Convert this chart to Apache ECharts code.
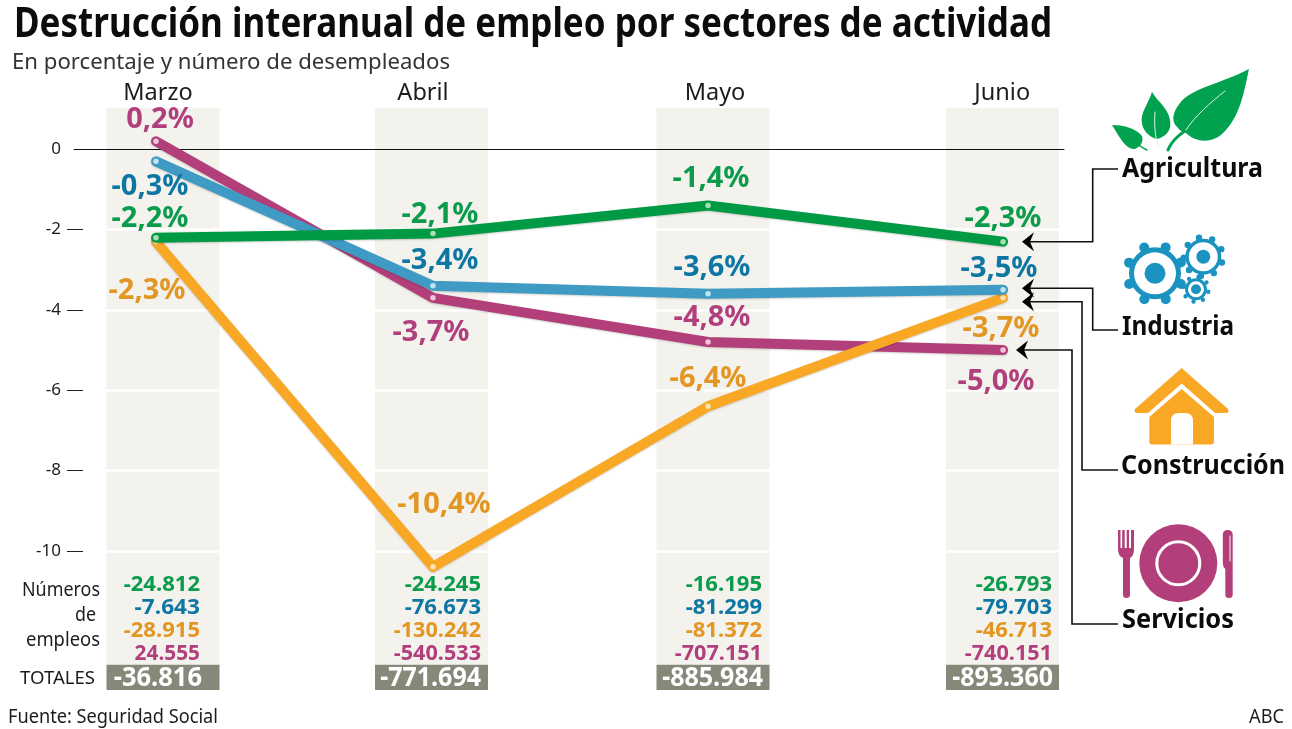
<!DOCTYPE html>
<html><head><meta charset="utf-8">
<style>html,body{margin:0;padding:0;background:#fff}#c{width:1292px;height:729px}</style>
<script src="https://cdn.jsdelivr.net/npm/echarts@6/dist/echarts.min.js"></script>
</head><body><div id="c"></div>
<script>
// ---------- data ----------
const months = ['Marzo','Abril','Mayo','Junio'];
const agricultura = [-2.2,-2.1,-1.4,-2.3];
const industria = [-0.3,-3.4,-3.6,-3.5];
const construccion = [-2.3,-10.4,-6.4,-3.7];
const servicios = [0.2,-3.7,-4.8,-5.0];
const jobsAgricultura = [-24812,-24245,-16195,-26793];
const jobsIndustria = [-7643,-76673,-81299,-79703];
const jobsConstruccion = [-28915,-130242,-81372,-46713];
const jobsServicios = [24555,-540533,-707151,-740151];
const totals = [-36816,-771694,-885984,-893360];
const tickedValues = [-2,-4,-6,-8,-10];

// ---------- layout (not data) ----------
const pointPos = [0,1,1.993,3.058];        // uneven column spacing of the original
const labelPos = [0.007,0.964,2.018,3.055];
const bandPos  = [0.0253,0.9946,2.0108,3.056];
const FONT = '"Noto Sans"';
const C = {green:'#009A44',greenT:'#0A9B4C',blue:'#3F9BC3',blueT:'#0D76A3',orange:'#F9A826',orangeT:'#E39622',pink:'#B23F7A',pinkT:'#B23F7D',band:'#F3F2EC',total:'#88887A',ink:'#1c1c1c',leaf:'#00A14F',gear:'#1B93C0'};
const dots = {green:'#A8DDB8',blue:'#BFE3F2',orange:'#FDE3B0',pink:'#F0C6DC'};
const labelOffsets = {
  green:[[-6,-19],[7,-19],[3,-27],[0,-23]],
  blue:[[-6,25],[7,-25],[4,-26],[-4,-21]],
  orange:[[-9,49],[11,-62],[0,-28],[-2,31]],
  pink:[[4,-22],[-2,35],[4,-24],[-7,32]]
};

const pct = v => v.toFixed(1).replace('.',',')+'%';
const thousands = v => (v<0?'-':'')+String(Math.abs(v)).replace(/\B(?=(\d{3})+$)/g,'.');

function lineSeries(name,vals,key,z){
  return {type:'line',name,z,clip:false,symbol:'circle',symbolSize:5.5,showSymbol:true,animation:false,silent:true,
    lineStyle:{color:C[key],width:10,cap:'round',join:'round',shadowColor:'rgba(0,0,0,0.18)',shadowBlur:2,shadowOffsetY:1},
    itemStyle:{color:dots[key],borderWidth:0},
    data:vals.map((v,i)=>({value:[pointPos[i],v],
      label:{show:true,position:'inside',offset:labelOffsets[key][i],formatter:pct(v),color:C[key+'T'],fontFamily:FONT,fontWeight:'bold',fontSize:29}}))};
}

const measure = document.createElement('canvas').getContext('2d');
function txt(x,y,str,size,weight,color,align,w){
  const font = weight+' '+size+'px '+FONT;
  let sx = 1;
  if(w){measure.font=font; sx = w/measure.measureText(str).width;}
  return {type:'text',x,y,scaleX:sx,silent:true,z:50,style:{x:0,y:0,text:str,font,fill:color,textAlign:align||'left',textVerticalAlign:'middle'}};
}
function gear(cx,cy,body,hole,dot,toothR,toothDist,n,color,start){
  const els=[];
  for(let i=0;i<n;i++){const a=start+i*2*Math.PI/n;
    els.push({type:'circle',shape:{cx:cx+toothDist*Math.cos(a),cy:cy+toothDist*Math.sin(a),r:toothR},style:{fill:color}});}
  els.push({type:'circle',shape:{cx,cy,r:body},style:{fill:color}});
  els.push({type:'circle',shape:{cx,cy,r:hole},style:{fill:'#fff'}});
  els.push({type:'circle',shape:{cx,cy,r:dot},style:{fill:color}});
  return els;
}
const path=(d,fill,stroke,lw)=>({type:'path',shape:{pathData:d},style:{fill:fill||'none',stroke:stroke||'none',lineWidth:lw||0,lineCap:'round'}});
function leader(pts,tipX,tipY){
  return [
    {type:'polyline',shape:{points:pts},silent:true,z:30,style:{stroke:'#111',lineWidth:1.6,fill:'none'}},
    {type:'polygon',shape:{points:[[tipX,tipY],[tipX+12,tipY-9.5],[tipX+8,tipY],[tipX+12,tipY+9.5]]},silent:true,z:31,style:{fill:'#000'}}
  ];
}

const iconEls = [
  // leaves
  path('M1249 69C1220 84 1192 88 1180 103C1172 113 1171 122 1178 128C1180 131 1183 132 1186 133C1196 143 1212 143 1222 134C1240 118 1244 92 1249 69Z',C.leaf),
  path('M1192 126C1180 134 1172 140 1168 150','none',C.leaf,3),
  path('M1225 91C1210 103 1195 116 1186 130','none','#DFF3E6',1),
  path('M1152 92C1148 105 1140 112 1142 124C1144 133 1152 138 1157 139C1166 137 1172 130 1170 120C1168 108 1158 102 1152 92Z',C.leaf),
  path('M1155 112C1154 125 1155 138 1159 149','none','#DFF3E6',1),
  path('M1112 125C1122 125 1136 128 1142 136C1144 142 1140 147 1135 149C1126 150 1120 138 1112 125Z',C.leaf),
  path('M1124 132C1130 138 1138 146 1147 150','none',C.leaf,1.5),
  // gears
  ...gear(1155,273.3,26,21,10.5,5,28,8,C.gear,0.39),
  ...gear(1203.3,256.7,18,14.5,7,3.2,19.5,9,C.gear,0.3),
  ...gear(1196,289.3,11,8,5,2.2,12.5,8,C.gear,0.2),
  // house
  path('M1181.7 368L1228 409Q1229.5 413 1226 413L1215 413L1181.7 383.5L1148 413L1137 413Q1133.5 413 1135 409Z',C.orange),
  path('M1181.7 389L1214 417L1214 441Q1214 444.5 1211 444.5L1152 444.5Q1149.3 444.5 1149.3 441L1149.3 417Z',C.orange),
  path('M1171 444.5L1171 421Q1171 413 1179 413L1185 413Q1193 413 1193 421L1193 444.5Z','#fff'),
  // plate and cutlery
  {type:'circle',shape:{cx:1178.3,cy:563.3,r:39},style:{fill:C.pink}},
  {type:'circle',shape:{cx:1178.3,cy:563.3,r:21.5},style:{fill:'none',stroke:'#fff',lineWidth:3}},
  path('M1118 530L1120.5 530L1120.5 548L1122.2 548L1122.2 530L1124.7 530L1124.7 548L1126.7 548L1126.7 530L1129 530L1129 548L1131 548L1131 530L1134 530L1134 549Q1134 556 1130 558L1130 595Q1130 598 1126.5 598Q1123 598 1123 595L1123 558Q1118 556 1118 549Z',C.pink),
  path('M1222.8 535Q1222.8 530 1227.7 530Q1232.7 530 1232.7 535L1232.7 595Q1232.7 598 1229 598Q1225.3 598 1225.3 595L1225.3 569Q1222.8 567 1222.8 563Z',C.pink),
  path('M1230 536L1230 561','none','#fff',1)
];

const graphicEls = [
  txt(14,25,'Destrucción interanual de empleo por sectores de actividad',42,'bold','#0c0c0c','left',1038),
  txt(12,63,'En porcentaje y número de desempleados',22,'normal','#333','left',438),
  txt(100,591,'Números',19,'normal',C.ink,'right',78),
  txt(96,616,'de',19,'normal',C.ink,'right',21),
  txt(100,641,'empleos',19,'normal',C.ink,'right',74),
  txt(95,679,'TOTALES',18,'normal',C.ink,'right',75),
  txt(8,717,'Fuente: Seguridad Social',20,'normal',C.ink,'left',210),
  txt(1284,717,'ABC',20,'normal',C.ink,'right',35),
  txt(1122,170,'Agricultura',26,'bold','#0c0c0c','left',141),
  txt(1122,328,'Industria',26,'bold','#0c0c0c','left',112),
  txt(1121,467,'Construcción',26,'bold','#0c0c0c','left',164),
  txt(1122,621,'Servicios',26,'bold','#0c0c0c','left',112),
  ...leader([[1118,169],[1092.7,169],[1092.7,241.7],[1026,241.7]],1022,241.7),
  ...leader([[1118,330],[1092.7,330],[1092.7,288.3],[1026,288.3]],1022,288.3),
  ...leader([[1118,470],[1082,470],[1082,301.7],[1026,301.7]],1022,301.7),
  ...leader([[1118,624],[1072,624],[1072,350],[1020,350]],1016,350)
];
// table numbers
const tableRight = [200,481,762,1052];
const totalRight = [202,481,763,1053];
const tableRows = [[jobsAgricultura,C.greenT,585],[jobsIndustria,C.blueT,608],[jobsConstruccion,C.orangeT,631],[jobsServicios,C.pinkT,653.5]];
tableRight.forEach((r,i)=>{
  tableRows.forEach(([arr,col,y])=>{
    const s=thousands(arr[i]);
    graphicEls.push(txt(r,y,s,22,'bold',col,'right',s.length*10.9));
  });
  const t=thousands(totals[i]);
  graphicEls.push(txt(totalRight[i],678,t,27,'bold','#fff','right',t.length*12.6));
});

const chart = echarts.init(document.getElementById('c'),null,{renderer:'canvas'});
chart.setOption({
  animation:false,
  backgroundColor:'#fff',
  grid:{left:74,right:228,top:149.3,height:401.5,show:false},
  xAxis:{type:'value',position:'top',min:-0.296,max:3.278,z:3,
    axisLine:{show:true,onZero:false,lineStyle:{color:'#111',width:1}},
    axisTick:{show:false},splitLine:{show:false},
    axisLabel:{show:true,customValues:labelPos,margin:44,
      formatter:v=>months[labelPos.indexOf(v)],color:C.ink,fontFamily:FONT,fontSize:23.5}},
  yAxis:{type:'value',min:-10,max:0,interval:2,offset:-9,z:1,
    axisLine:{show:false,onZero:false},
    axisTick:{show:true,length:16,customValues:tickedValues,lineStyle:{color:'#222',width:1}},
    splitLine:{show:true,lineStyle:{color:'#fff',width:2.5}},
    axisLabel:{margin:22,color:C.ink,fontFamily:FONT,fontSize:17}},
  series:[
    {type:'custom',z:0,silent:true,animation:false,
      data:bandPos.map(p=>[p,1.03,-12.84,-13.47]),
      encode:{x:0,y:1},
      renderItem(params,api){
        const top=api.coord([api.value(0),api.value(1)]);
        const mid=api.coord([api.value(0),api.value(2)]);
        const bot=api.coord([api.value(0),api.value(3)]);
        return {type:'group',children:[
          {type:'rect',shape:{x:top[0]-56.5,y:top[1],width:113,height:mid[1]-top[1]},style:{fill:C.band}},
          {type:'rect',shape:{x:top[0]-56.5,y:mid[1],width:113,height:bot[1]-mid[1]},style:{fill:C.total}}
        ]};
      }},
    lineSeries('Servicios',servicios,'pink',3),
    lineSeries('Construcción',construccion,'orange',4),
    lineSeries('Industria',industria,'blue',5),
    lineSeries('Agricultura',agricultura,'green',6),
    {type:'custom',coordinateSystem:'none',z:8,silent:true,animation:false,data:[[0]],
      renderItem(){return {type:'group',children:iconEls};}}
  ],
  graphic:{elements:graphicEls}
});
</script></body></html>
